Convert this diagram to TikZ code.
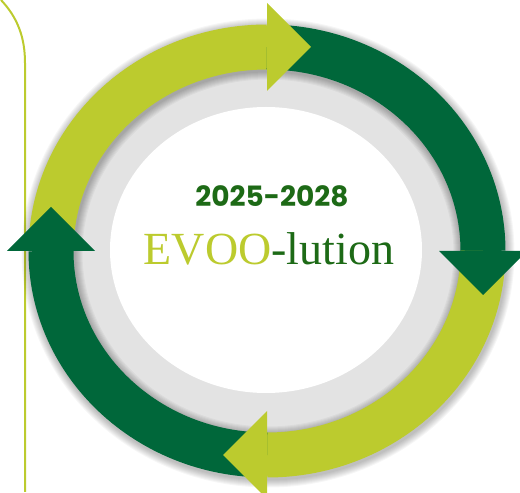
\documentclass[tikz,border=0pt]{standalone}
\usepackage{fontspec}
\usetikzlibrary{calc}
\newfontfamily\yearfont{Poppins}
\newfontfamily\titlefont{Liberation Serif}
\definecolor{evoolime}{HTML}{BCCB2E}
\definecolor{evoodark}{HTML}{00673A}
\definecolor{yeargreen}{HTML}{1D6A16}
\definecolor{ringgrey}{HTML}{E3E3E3}

\begin{document}
\begin{tikzpicture}[x=1pt,y=1pt,
    band/.style={line width=45pt},
    bandshadow/.style={line width=#1, black, opacity=0.035},
  ]
  \useasboundingbox (0,0) rectangle (520,493);
  \clip (0,0) rectangle (520,493);
  \coordinate (c) at (267,242);

  % side rule
  \draw[evoolime, line width=2pt] (1,493) .. controls (18,475) and (25,455) .. (25,430) -- (25,1);

  % grey ring, soft shadow and white centre
  \fill[ringgrey] (c) ellipse [x radius=200, y radius=190];
  \foreach \w in {2,4,...,16}
    \draw[bandshadow=45+\w] ($(c)+(1,-2)+(0:216 and 204)$)
      arc [start angle=0, end angle=360, x radius=216, y radius=204];
  \fill[white] (266,243) ellipse [x radius=156, y radius=143];

  % the four bands
  \foreach \a/\col in {180/evoolime, 90/evoodark, 0/evoolime, -90/evoodark}
    \draw[band, \col] ($(c)+(\a:216 and 204)$)
      arc [start angle=\a, end angle=\a-90, x radius=216, y radius=204];

  % arrow heads
  \foreach \a/\col in {90/evoolime, 0/evoodark, -90/evoolime, 180/evoodark}
    \fill[\col, shift={($(c)+(\a:216 and 204)$)}, rotate=\a]
      (44,0) -- (0,-44) -- (-44,0) -- cycle;

  \node[anchor=base, text=yeargreen, font=\yearfont\bfseries\fontsize{28}{30}\selectfont]
    (years) at (272,286) {2025-2028};
  \node[anchor=base, font=\titlefont\fontsize{46}{50}\selectfont]
    (title) at (269,228) {\textcolor{evoolime}{EVOO}\textcolor{yeargreen}{-lution}};
\end{tikzpicture}
\end{document}
